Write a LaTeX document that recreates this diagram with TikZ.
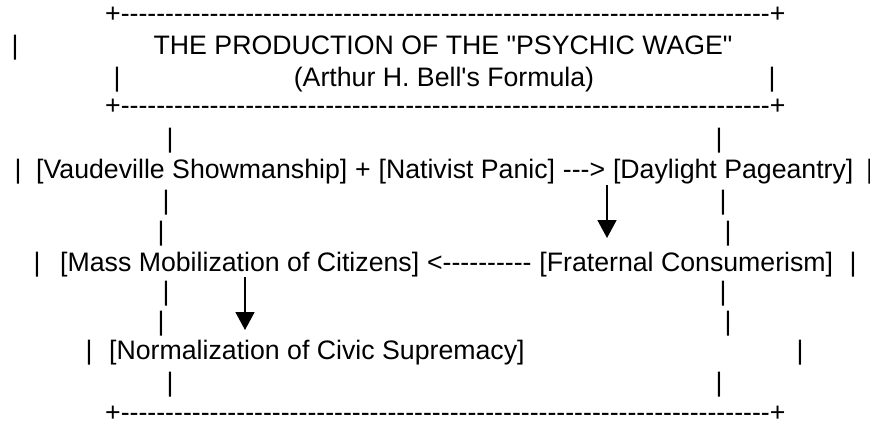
\documentclass[tikz,border=0pt]{standalone}
\usepackage{fontspec}
\newfontfamily\asciifont{Liberation Sans}
\usetikzlibrary{positioning,arrows.meta}
\tikzset{
  ascii/.style={font=\asciifont\fontsize{26.7}{30}\selectfont, inner sep=0pt, anchor=base west},
  bar/.style={ascii, anchor=base},
  gap/.style={base right=7.4pt of #1},
  drop/.style={line width=1.7pt, -{Triangle[width=19pt,length=18pt]}}
}
\newcommand{\border}{+\foreach \i in {1,...,73}{-}+}
\begin{document}
\begin{tikzpicture}[x=1pt,y=-1pt]
        \useasboundingbox (0,0) rectangle (870,421);
        \node[ascii](top) at (105,22) {\border};
        \node[bar](b1) at (15,54) {|};
        \node[ascii,anchor=base](title) at (443,54) {THE PRODUCTION OF THE "PSYCHIC WAGE"};
        \node[bar](b2) at (117,86) {|};
        \node[ascii,anchor=base](sub) at (444,86) {(Arthur H. Bell's Formula)};
        \node[bar](b3) at (772,86) {|};
        \node[ascii](mid) at (105,114) {\border};
        \node[bar](b4) at (170,147) {|};
        \node[bar](b5) at (719,147) {|};
        \node[bar](b6) at (18,178) {|};
        \node[ascii](vaud) at (36,178) {[Vaudeville Showmanship]};
        \node[ascii,gap=vaud](plus) {+};
        \node[ascii,gap=plus](nativ) {[Nativist Panic]};
        \node[ascii,gap=nativ](fwd) {--->};
        \node[ascii,gap=fwd](day) {[Daylight Pageantry]};
        \node[bar](b7) at (869.5,178) {|};
        \node[bar](b8) at (166,209) {|};
        \node[bar](b9) at (723,209) {|};
        \node[bar](b10) at (161,240) {|};
        \node[bar](b11) at (728,240) {|};
        \node[bar](b12) at (37,271) {|};
        \node[ascii](mass) at (60,271) {[Mass Mobilization of Citizens]};
        \node[ascii,gap=mass](back) {<----------};
        \node[ascii,gap=back](frat) {[Fraternal Consumerism]};
        \node[bar](b13) at (853,271) {|};
        \node[bar](b14) at (166,300) {|};
        \node[bar](b15) at (723,300) {|};
        \node[bar](b16) at (161,330) {|};
        \node[bar](b17) at (728,330) {|};
        \node[bar](b18) at (89,359) {|};
        \node[ascii](norm) at (109,359) {[Normalization of Civic Supremacy]};
        \node[bar](b19) at (800,359) {|};
        \node[bar](b20) at (170,391) {|};
        \node[bar](b21) at (719,391) {|};
        \node[ascii](bottom) at (105,421) {\border};
        \coordinate(d1) at (607,185);
        \coordinate(d1e) at (607,238);
        \coordinate(d2) at (245,277);
        \coordinate(d2e) at (245,330);
        \draw[drop](d1)--(d1e);
        \draw[drop](d2)--(d2e);
        \end{tikzpicture}
\end{document}
